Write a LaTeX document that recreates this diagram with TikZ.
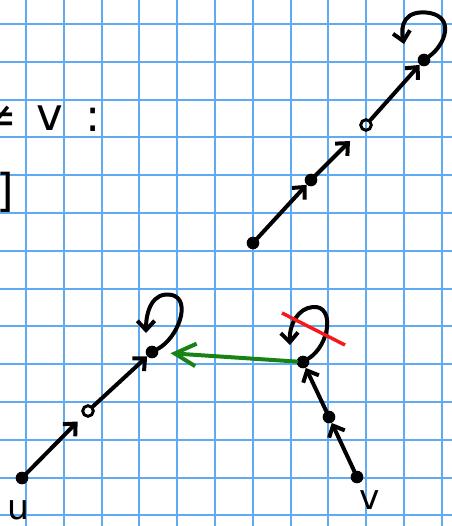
\documentclass[tikz,border=0pt]{standalone}
\usepackage{fontspec}
\setmainfont{DejaVu Sans}
\usetikzlibrary{arrows.meta}
\definecolor{gridblue}{RGB}{95,170,245}
\definecolor{inkgreen}{RGB}{25,130,20}
\definecolor{inkred}{RGB}{245,25,25}
\begin{document}
\begin{tikzpicture}[x=0.02646cm, y=-0.02646cm,
  gridline/.style={gridblue, line width=1.5pt},
  vtx/.style={circle, fill=black, inner sep=0pt, minimum size=9.5pt},
  hollow/.style={circle, draw, line width=2.2pt, inner sep=0pt, minimum size=8pt},
  arr/.style={-{Straight Barb[length=7pt, width=13pt]}, line width=3pt, line cap=round},
  garr/.style={-{Straight Barb[length=16pt, width=17pt]}, inkgreen, line width=3pt, line cap=round},
  hand/.style={font=\fontsize{34}{40}\selectfont, inner sep=0pt},
  lbl/.style={font=\fontsize{26}{32}\selectfont, inner sep=0pt}
]
\useasboundingbox (0,0) rectangle (452,526);
% grid paper
\foreach \i in {0,...,11}
  \draw[gridline] ({26+37.8*\i},0) -- ({26+37.8*\i},526);
\foreach \j in {0,...,13}
  \draw[gridline] (0,{24+37.8*\j}) -- (452,{24+37.8*\j});

% text cut at the left edge
\node[hand] (neq) at (-2,120) {≠};
\node[hand] (vt) at (50,118) {v};
\node[hand] (col) at (93,120) {:};
\node[hand] (brk) at (5,192) {]};

% top-right walk
\node[vtx] (a1) at (253,243) {};
\node[vtx] (a2) at (311,180) {};
\node[hollow] (a3) at (366,125) {};
\node[vtx] (a4) at (424,60) {};
\coordinate (a4end) at (404,44);
\draw[arr] (a1) -- (a2);
\draw[arr, shorten >=12pt] (a2) -- (a3);
\draw[arr] (a3) -- (a4);
\draw[arr] (a4) .. controls (445,45) and (455,18) .. (430,13) .. controls (405,9) and (400,25) .. (a4end);

% walk from u
\node[vtx] (b1) at (22,478) {};
\node[lbl] (ulbl) at (18,510) {u};
\node[hollow] (b2) at (88,411) {};
\node[vtx] (b3) at (152,352) {};
\coordinate (b3end) at (146,333);
\draw[arr, shorten >=6pt] (b1) -- (b2);
\draw[arr] (b2) -- (b3);
\draw[arr] (b3) .. controls (178,338) and (192,300) .. (172,295) .. controls (152,291) and (146,312) .. (b3end);

% walk from v
\node[vtx] (c1) at (357,477) {};
\node[lbl] (vlbl) at (370,500) {v};
\node[vtx] (c2) at (329,417) {};
\node[vtx] (c3) at (303,362) {};
\coordinate (c3end) at (290,345);
\draw[arr] (c1) -- (c2);
\draw[arr] (c2) -- (c3);
\draw[arr] (c3) .. controls (330,345) and (335,305) .. (313,307) .. controls (298,308) and (289,325) .. (c3end);
\draw[inkred, line width=2.6pt] (282,313) -- (345,345);
\draw[garr, shorten >=9pt] (c3) -- (b3);
\end{tikzpicture}
\end{document}
